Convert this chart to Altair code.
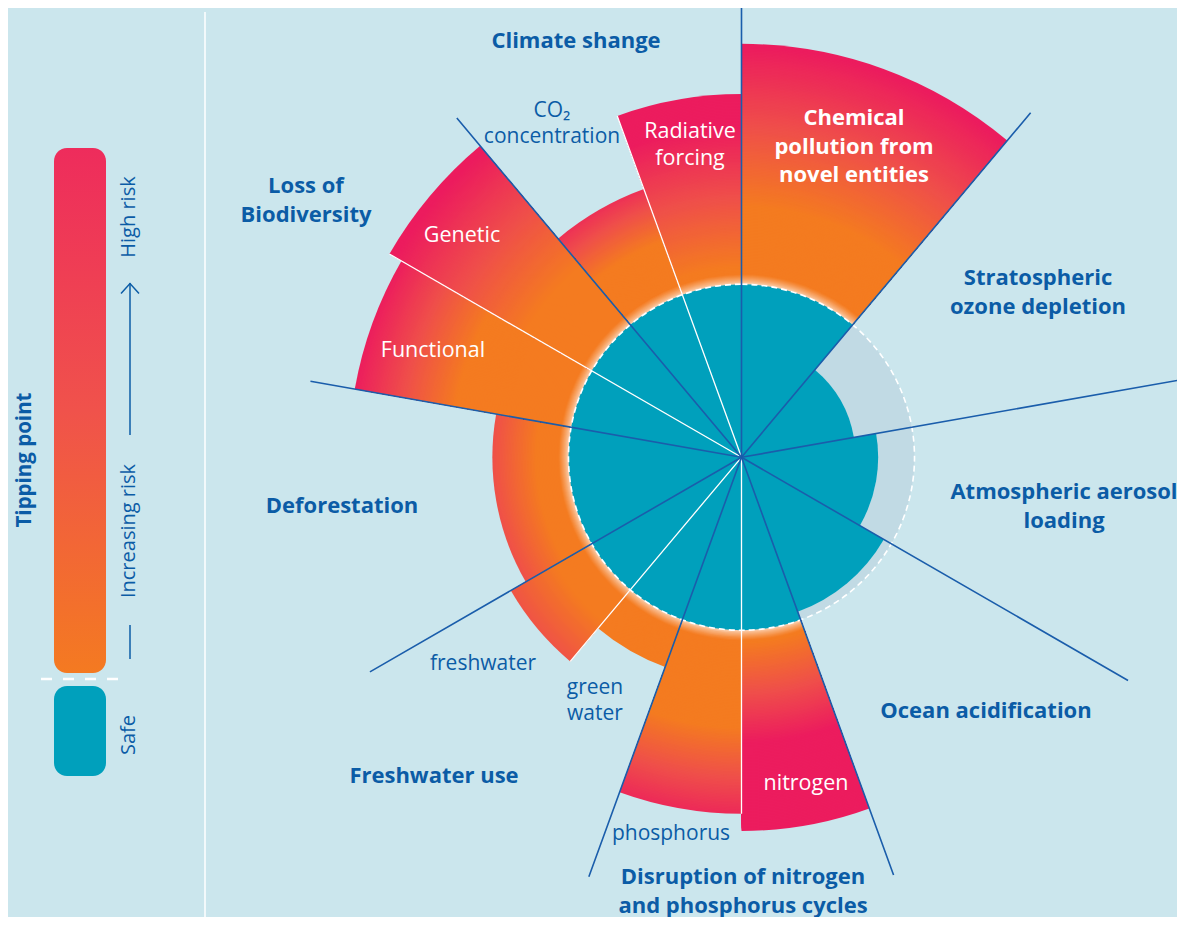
import math
import altair as alt
import pandas as pd

# ---------------- data ----------------
# sub-sectors of the planetary-boundaries wheel (angles in degrees, clockwise from top)
subsectors = ["CO2 concentration", "Radiative forcing", "Chemical pollution",
              "Stratospheric ozone", "Atmospheric aerosol", "Ocean acidification",
              "Nitrogen", "Phosphorus", "Green water", "Blue water",
              "Deforestation", "Functional", "Genetic"]
angle_start = [320, 340, 0, 40, 80, 120, 160, 180, 200, 220, 240, 280, 300]
angle_end = [340, 360, 40, 80, 120, 160, 180, 200, 220, 240, 280, 300, 320]
# status relative to the safe boundary (1.0 = edge of the safe zone)
status = [1.65, 2.10, 2.39, 0.66, 0.79, 0.95, 2.16, 2.06, 1.29, 1.54, 1.44, 2.27, 2.35]

# main boundary separators and sub-boundary separators (angle, length relative to safe radius)
main_edges = [0, 40, 80, 120, 160, 200, 240, 280, 320]
main_edge_len = [2.61, 2.60, 2.58, 2.58, 2.57, 2.58, 2.48, 2.53, 2.56]
sub_edges = [340, 300, 220, 180]
sub_edge_len = [2.10, 2.35, 1.54, 2.06]

# labels
title_text = ["Climate shange", "Loss of\nBiodiversity", "Deforestation", "Freshwater use",
              "Disruption of nitrogen\nand phosphorus cycles", "Ocean acidification",
              "Atmospheric aerosol\nloading", "Stratospheric\nozone depletion"]
sub_text = ["CO\u2082\nconcentration", "green\nwater", "freshwater", "phosphorus"]
inner_text = ["Radiative\nforcing", "Genetic", "Functional", "nitrogen"]
bold_inner_text = ["Chemical\npollution from\nnovel entities"]
legend_text = ["High risk", "Increasing risk", "Safe"]
legend_title = ["Tipping point"]

# ---------------- layout / style ----------------
OFF = 8
W, H = 1169, 909
CX, CY = 741.5 - OFF, 457.3 - OFF
SAFE = 173.0
BG = "#CBE6ED"
TEAL = "#00A0BC"
GRAY = "#C1DAE4"
DARK = "#1A5DAB"
TXT = "#0B5CA6"
ORANGE, CORAL, PINK, PEACH = "#F47B20", "#EF4F4A", "#EC1C5E", "#FCDCC4"

# gradient ranges (px radius where orange starts fading, where pink is full)
grad_px = [(230, 300), (190, 330), (250, 410), None, None, None,
           (185, 285), (270, 370), (240, 420), (215, 330), (205, 295), (290, 395), (250, 400)]

title_pos = [(576, 48), (306, 193), (342, 513), (434, 783), (743, 884), (986, 718),
             (1064, 499), (1038, 285)]
sub_pos = [(552, 117), (595, 694), (483, 670), (671, 840)]
inner_pos = [(690, 138), (462, 242), (433, 357), (806, 790)]
bold_inner_pos = [(854, 125)]
legend_pos = [(129, 217), (129, 531), (129, 735)]
legend_title_pos = [(25, 460)]


def h2r(h):
    return tuple(int(h[i:i + 2], 16) for i in (1, 3, 5))


def mix(c1, c2, t):
    a, b = h2r(c1), h2r(c2)
    return "#%02X%02X%02X" % tuple(round(a[k] + (b[k] - a[k]) * t) for k in range(3))


def ramp(t):
    t = max(0.0, min(1.0, t))
    if t <= 0.5:
        return mix(ORANGE, CORAL, t / 0.5)
    return mix(CORAL, PINK, (t - 0.5) / 0.5)


# gradient bands: wedges drawn from largest to smallest radius
band_rows = []
HALO = 10.0
for i in range(len(subsectors)):
    if status[i] <= 1 or grad_px[i] is None:
        continue
    a, b = grad_px[i]
    r = status[i] * SAFE
    while r > SAFE + 0.01:
        step = 1.0 if r < SAFE + HALO + 1 else 1.5
        mid = r - step / 2
        col = ramp((mid - a) / (b - a))
        h = (mid - SAFE) / HALO
        if h < 1:
            col = mix(PEACH, col, max(0.0, h) ** 0.7)
        band_rows.append(dict(t0=angle_start[i], t1=angle_end[i], r=r / SAFE, fill=col))
        r -= step
bands = pd.DataFrame(band_rows)

sectors = pd.DataFrame(dict(name=subsectors, t0=angle_start, t1=angle_end, status=status))
sectors["teal_r"] = sectors["status"].clip(upper=1.0)
sectors["one"] = 1.0
gray_df = sectors[sectors["status"] < 1]

main_lines = pd.DataFrame(dict(t0=main_edges, t1=main_edges, r=main_edge_len))
sub_lines = pd.DataFrame(dict(t0=sub_edges, t1=sub_edges, r=sub_edge_len))
circle_df = pd.DataFrame(dict(t0=[0], t1=[360], r=[1.0]))

theta_scale = alt.Scale(domain=[0, 360], range=[0, 2 * math.pi])
radius_scale = alt.Scale(type="linear", domain=[0, 1], range=[0, SAFE], nice=False, zero=True)


def arc_enc(r="r", r0=None):
    enc = dict(theta=alt.Theta("t0:Q", scale=theta_scale, stack=None),
               theta2=alt.Theta2("t1:Q"),
               radius=alt.Radius(f"{r}:Q", scale=radius_scale, stack=None),
               x=alt.value(CX), y=alt.value(CY))
    if r0:
        enc["radius2"] = alt.Radius2(f"{r0}:Q")
    return enc


band_layer = alt.Chart(bands).mark_arc(strokeWidth=0).encode(
    color=alt.Color("fill:N", scale=None), **arc_enc())
gray_layer = alt.Chart(gray_df).mark_arc(color=GRAY).encode(**arc_enc("one", "status"))
teal_layer = alt.Chart(sectors).mark_arc(color=TEAL).encode(**arc_enc("teal_r"))
sub_line_layer = alt.Chart(sub_lines).mark_arc(
    fill="transparent", stroke="white", strokeWidth=1.3).encode(**arc_enc())
circle_layer = alt.Chart(circle_df).mark_arc(
    fill="transparent", stroke="white", strokeWidth=1.6, strokeDash=[6, 4]).encode(**arc_enc())
main_line_layer = alt.Chart(main_lines).mark_arc(
    fill="transparent", stroke=DARK, strokeWidth=1.6).encode(**arc_enc())


def text_df(texts, pos):
    return pd.DataFrame(dict(text=texts, x=[p[0] - OFF for p in pos], y=[p[1] - OFF for p in pos]))


def text_layer(texts, pos, color, weight, size, lh, baseline="alphabetic", angle=0):
    kw = dict(font="Open Sans", fontSize=size, fontWeight=weight, color=color,
              align="center", baseline=baseline, lineBreak="\n", lineHeight=lh)
    if angle:
        kw["angle"] = angle
    return alt.Chart(text_df(texts, pos)).mark_text(**kw).encode(
        x=alt.X("x:Q", scale=None, axis=None),
        y=alt.Y("y:Q", scale=None, axis=None),
        text="text:N")


titles = text_layer(title_text, title_pos, TXT, "bold", 22, 28.5)
subs = text_layer(sub_text, sub_pos, TXT, "normal", 21, 25.5)
inners = text_layer(inner_text, inner_pos, "white", "normal", 21.5, 27)
bold_inners = text_layer(bold_inner_text, bold_inner_pos, "white", "bold", 22, 28.5)
leg_texts = text_layer(legend_text, legend_pos, TXT, "normal", 20, 24, "middle", 270)
leg_title = text_layer(legend_title, legend_title_pos, TXT, "bold", 20.5, 24, "middle", 270)

one = pd.DataFrame({"a": [0]})
legend_bar = alt.Chart(one).mark_rect(
    cornerRadius=13,
    fill=alt.LinearGradient(gradient="linear", x1=0, y1=0, x2=0, y2=1,
                            stops=[alt.GradientStop(color="#EE2C5C", offset=0),
                                   alt.GradientStop(color="#F0524B", offset=0.5),
                                   alt.GradientStop(color="#F47A21", offset=1)])
).encode(x=alt.value(46), x2=alt.value(98), y=alt.value(140), y2=alt.value(665))
legend_safe = alt.Chart(one).mark_rect(cornerRadius=13, color=TEAL).encode(
    x=alt.value(46), x2=alt.value(98), y=alt.value(678), y2=alt.value(768))
legend_dash = alt.Chart(one).mark_rule(color="white", strokeWidth=2.5, strokeDash=[11, 11]).encode(
    x=alt.value(33), x2=alt.value(110), y=alt.value(671))
divider = alt.Chart(one).mark_rule(color="white", strokeWidth=1.5).encode(
    x=alt.value(197), y=alt.value(4), y2=alt.value(917))
arrow_line = alt.Chart(one).mark_rule(color=TXT, strokeWidth=1.5).encode(
    x=alt.value(122), y=alt.value(275), y2=alt.value(427))
arrow_head = alt.Chart(one).mark_point(
    shape="M -1 0.55 L 0 -0.55 L 1 0.55", filled=False, stroke=TXT, strokeWidth=1.5,
    size=324, opacity=1).encode(x=alt.value(122), y=alt.value(280.5))
short_line = alt.Chart(one).mark_rule(color=TXT, strokeWidth=1.5).encode(
    x=alt.value(122), y=alt.value(617), y2=alt.value(651))

chart = alt.layer(
    band_layer, gray_layer, teal_layer, sub_line_layer, circle_layer, main_line_layer,
    titles, subs, inners, bold_inners,
    legend_bar, legend_safe, legend_dash, divider, arrow_line, arrow_head, short_line,
    leg_texts, leg_title
).properties(width=W, height=H).configure(
    background=BG, padding=0, autosize=alt.AutoSizeParams(type="none")
).configure_view(stroke=None)

chart.save("out.html", embed_options={"renderer": "svg", "actions": False})
